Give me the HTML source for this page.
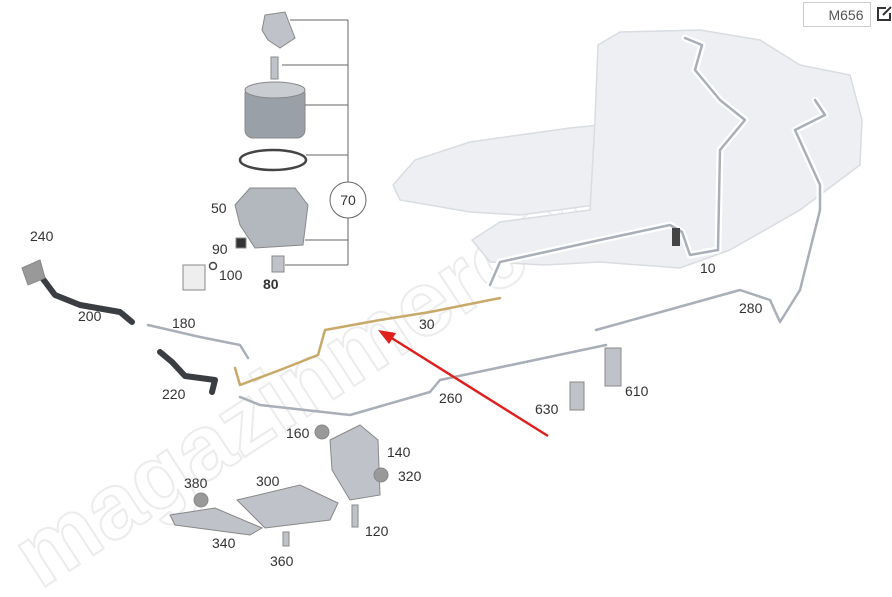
<!DOCTYPE html>
<html><head><meta charset="utf-8"><style>
html,body{margin:0;padding:0;background:#fff;}
svg{display:block;font-family:"Liberation Sans",Arial,sans-serif;}
.l{font-size:14px;fill:#333;}
</style></head><body>
<svg width="892" height="597" viewBox="0 0 892 597" xmlns="http://www.w3.org/2000/svg">
<!-- watermark -->
<text x="40" y="590" transform="rotate(-33 40 590)" font-size="92" font-weight="bold" fill="none" stroke="#ececec" stroke-width="2">magazinmercedes.ru</text>
<!-- tank -->
<g fill="#edeff2" stroke="#d9dce1" stroke-width="1.5">
<path d="M393,185 L415,160 L470,142 L570,128 L600,125 L595,205 L520,215 L470,212 L400,200 Z"/>
<path d="M598,45 L620,32 L700,30 L760,40 L800,65 L850,75 L862,120 L860,165 L800,210 L730,250 L680,268 L600,262 L545,265 L490,262 L472,240 L500,222 L590,210 L595,120 Z"/>
</g>
<!-- tubes -->
<g fill="none" stroke-linejoin="round" stroke-linecap="round">
<g stroke="#fff" stroke-width="7">
<polyline points="685,38 702,45 695,70 720,100 745,120 720,150 718,250 690,255 682,232 670,225 600,240 500,262 490,285"/>
<polyline points="815,100 825,115 795,130 820,185 820,210 800,290 780,322 770,300 740,290 596,330"/>
</g>
<g stroke="#a9afb8" stroke-width="2.5">
<polyline points="685,38 702,45 695,70 720,100 745,120 720,150 718,250 690,255 682,232 670,225 600,240 500,262 490,285"/>
<polyline points="815,100 825,115 795,130 820,185 820,210 800,290 780,322 770,300 740,290 596,330"/>
<polyline points="606,345 440,380 430,392 350,415 260,405 240,397"/>
<polyline points="148,325 200,337 240,345 248,358"/>
</g>
<polyline points="500,298 490,300 430,312 380,320 325,330 318,355 280,370 240,385 235,368" stroke="#c8a96a" stroke-width="2.5"/>
<polyline points="40,275 55,295 80,305 120,312 132,322" stroke="#3a3d42" stroke-width="6"/>
<polyline points="160,352 172,362 185,376 215,380 212,392" stroke="#3a3d42" stroke-width="6"/>
</g>
<rect x="672" y="228" width="8" height="18" fill="#444"/>
<!-- parts column -->
<g stroke="#888" stroke-width="1" fill="#bfc3c9">
<path d="M265,15 L285,12 L295,38 L280,48 L268,40 L262,30 Z"/>
<rect x="271" y="57" width="7" height="22"/>
<rect x="245" y="86" width="60" height="52" rx="8" fill="#9aa0a8"/>
<ellipse cx="275" cy="90" rx="30" ry="8" fill="#c9ccd1"/>
<path d="M235,205 L250,188 L295,188 L308,205 L303,245 L255,248 L240,225 Z" fill="#b3b8bf"/>
<rect x="236" y="238" width="10" height="10" fill="#333"/>
<rect x="183" y="265" width="22" height="25" fill="#eee"/>
<rect x="272" y="256" width="12" height="16"/>
<path d="M330,440 L360,425 L378,440 L380,495 L350,500 L332,470 Z"/>
<path d="M237,500 L300,485 L338,503 L330,520 L265,528 Z"/>
<path d="M170,515 L215,508 L262,528 L250,535 L175,525 Z"/>
<rect x="570" y="382" width="14" height="28"/>
<rect x="605" y="348" width="16" height="38"/>
<rect x="352" y="505" width="6" height="22"/>
<rect x="283" y="532" width="6" height="14"/>
<circle cx="322" cy="432" r="7" fill="#999"/>
<circle cx="381" cy="475" r="7" fill="#999"/>
<circle cx="201" cy="500" r="7" fill="#999"/>
<path d="M22,268 L40,260 L45,278 L28,285 Z" fill="#999"/>
</g>
<ellipse cx="273" cy="160" rx="33" ry="10" fill="none" stroke="#444" stroke-width="2.5"/>
<circle cx="213" cy="266" r="3.5" fill="none" stroke="#444" stroke-width="1.5"/>
<!-- bracket -->
<g stroke="#666" stroke-width="1" fill="none">
<line x1="348" y1="20" x2="348" y2="182"/><line x1="348" y1="218" x2="348" y2="265"/>
<line x1="290" y1="20" x2="348" y2="20"/>
<line x1="282" y1="65" x2="348" y2="65"/>
<line x1="305" y1="105" x2="348" y2="105"/>
<line x1="306" y1="155" x2="348" y2="155"/>
<line x1="305" y1="240" x2="348" y2="240"/>
<line x1="285" y1="265" x2="348" y2="265"/>
</g>
<circle cx="348" cy="200" r="18" fill="#fff" stroke="#666"/>
<text x="348" y="205" text-anchor="middle" class="l">70</text>
<!-- labels -->
<text class="l" x="30" y="241">240</text>
<text class="l" x="78" y="321">200</text>
<text class="l" x="172" y="328">180</text>
<text class="l" x="162" y="399">220</text>
<text class="l" x="211" y="213">50</text>
<text class="l" x="212" y="254">90</text>
<text class="l" x="219" y="280">100</text>
<text class="l" x="263" y="289" font-weight="bold">80</text>
<text class="l" x="419" y="329">30</text>
<text class="l" x="700" y="273">10</text>
<text class="l" x="739" y="313">280</text>
<text class="l" x="439" y="403">260</text>
<text class="l" x="535" y="414">630</text>
<text class="l" x="625" y="396">610</text>
<text class="l" x="286" y="438">160</text>
<text class="l" x="387" y="457">140</text>
<text class="l" x="398" y="481">320</text>
<text class="l" x="184" y="488">380</text>
<text class="l" x="256" y="486">300</text>
<text class="l" x="212" y="548">340</text>
<text class="l" x="365" y="536">120</text>
<text class="l" x="270" y="566">360</text>
<!-- red arrow -->
<line x1="548" y1="436" x2="390" y2="337" stroke="#e0201c" stroke-width="2.5"/>
<polygon points="378,330 396,333 389,344" fill="#e0201c"/>
<!-- M656 box -->
<rect x="803.5" y="2.5" width="67" height="24" fill="#fff" stroke="#ccc"/>
<text x="846" y="20" text-anchor="middle" font-size="14" fill="#555">M656</text>
<g stroke="#333" stroke-width="2" fill="none">
<path d="M886,8 L878,8 L878,20 L890,20 L890,13"/>
<path d="M883,15 L891,7"/>
</g>
</svg>
</body></html>
